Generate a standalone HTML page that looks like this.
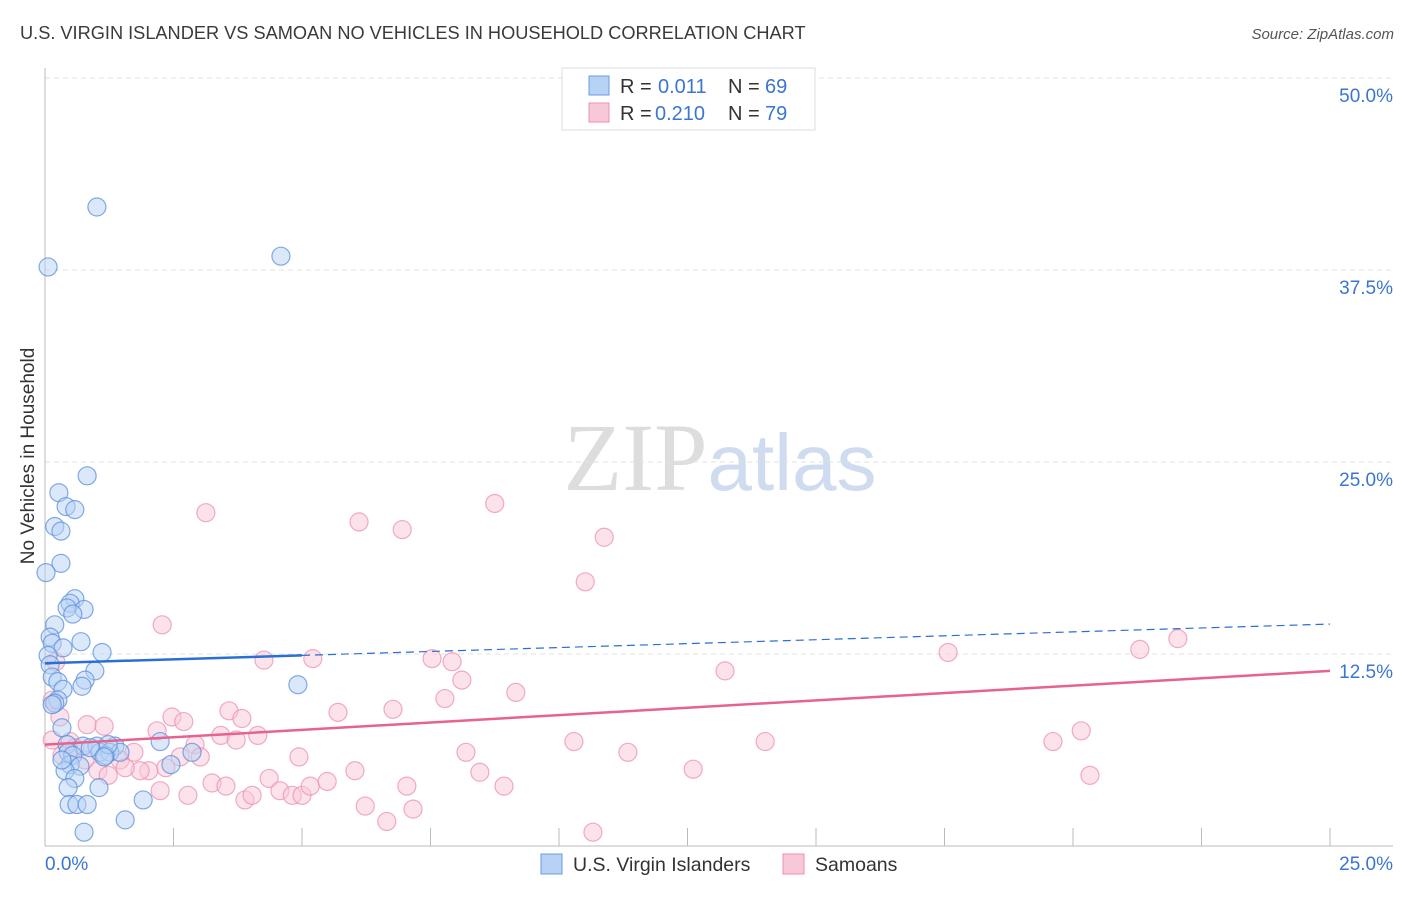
<!DOCTYPE html>
<html><head><meta charset="utf-8"><style>
body{margin:0;background:#fff;font-family:"Liberation Sans",sans-serif}
svg text{font-family:"Liberation Sans",sans-serif}
</style></head><body>
<svg id="chart" width="1406" height="892" xmlns="http://www.w3.org/2000/svg">
<text x="20" y="39" font-size="18.2" fill="#3a3a3a">U.S. VIRGIN ISLANDER VS SAMOAN NO VEHICLES IN HOUSEHOLD CORRELATION CHART</text>
<text x="1394" y="39" font-size="15" fill="#555" font-style="italic" text-anchor="end">Source: ZipAtlas.com</text>
<text x="720" y="490" font-size="96" text-anchor="middle"><tspan font-family="Liberation Serif" fill="#ddd">ZIP</tspan><tspan fill="#cfdcf0" font-size="80">atlas</tspan></text>
<text transform="translate(34,456) rotate(-90)" font-size="19" fill="#333" text-anchor="middle">No Vehicles in Household</text>
<g id="grid"></g>
<g id="axes"></g>
<g id="marks"></g>
<g>
<rect x="562" y="68" width="253" height="62" fill="#fff" stroke="#ddd"/>
<rect x="589" y="76" width="20" height="19" fill="#b8d2f5" stroke="#6a9be0"/>
<rect x="589" y="103" width="20" height="19" fill="#f9c8d8" stroke="#ec90ae"/>
<text font-size="20" fill="#333"><tspan x="620" y="93">R =</tspan><tspan x="658" y="93" fill="#3a76d0">0.011</tspan><tspan x="728" y="93">N =</tspan><tspan x="765" y="93" fill="#3a76d0">69</tspan></text>
<text font-size="20" fill="#333"><tspan x="620" y="120">R =</tspan><tspan x="655" y="120" fill="#3a76d0">0.210</tspan><tspan x="728" y="120">N =</tspan><tspan x="765" y="120" fill="#3a76d0">79</tspan></text>
</g>
<g>
<rect x="541" y="854" width="21" height="20" fill="#b8d2f5" stroke="#6a9be0"/>
<text x="573" y="871" font-size="19.5" fill="#333">U.S. Virgin Islanders</text>
<rect x="783" y="854" width="21" height="20" fill="#f9c8d8" stroke="#ec90ae"/>
<text x="815" y="871" font-size="19.5" fill="#333">Samoans</text>
</g>
</svg>
<script>
const blueX=[1.01,0.06,4.59,0.82,0.27,0.41,0.58,0.19,0.31,0.31,0.02,0.58,0.49,0.43,0.76,0.54,0.19,0.10,0.70,0.14,0.35,1.11,0.06,0.10,0.97,0.14,0.25,0.78,0.72,0.35,4.92,0.25,0.19,0.14,0.33,2.24,0.43,0.74,1.01,1.36,0.45,0.54,1.07,1.26,1.46,1.17,2.86,0.49,0.68,0.39,0.58,2.45,0.45,1.05,0.47,0.62,0.82,1.91,0.76,1.56,0.33,0.88,1.23,1.15];
const blueY=[41.6,37.7,38.4,24.1,23.0,22.1,21.9,20.8,20.5,18.4,17.8,16.1,15.8,15.5,15.4,15.1,14.4,13.6,13.3,13.2,12.9,12.6,12.4,11.8,11.4,11.0,10.7,10.8,10.4,10.2,10.5,9.5,9.3,9.2,7.7,6.8,6.6,6.5,6.5,6.5,6.1,5.9,6.1,6.1,6.1,5.9,6.1,5.3,5.2,4.9,4.4,5.3,3.8,3.8,2.7,2.7,2.7,3.0,0.9,1.7,5.6,6.4,6.6,5.8];
const pinkX=[3.13,6.11,6.95,8.75,10.88,10.51,2.28,4.26,5.21,7.53,7.92,8.11,7.78,9.16,13.23,17.57,21.30,22.04,0.21,0.29,0.82,1.15,2.47,2.70,2.18,3.58,3.83,3.42,3.72,4.14,5.70,6.77,2.92,2.63,2.35,2.02,1.73,1.46,1.85,1.56,3.02,3.25,3.52,3.89,4.03,4.36,4.57,4.81,5.00,5.16,5.49,4.94,6.03,6.23,6.65,7.04,7.16,8.19,8.46,8.93,10.29,11.34,12.61,14.01,19.61,20.16,20.33,10.66,0.14,0.49,0.58,0.33,0.78,1.03,1.23,2.24,2.78,0.14];
const pinkY=[21.7,21.1,20.6,22.3,20.1,17.2,14.4,12.1,12.2,12.2,12.0,10.8,9.6,10.0,11.4,12.6,12.8,13.5,12.0,8.4,7.9,7.8,8.4,8.1,7.5,8.8,8.3,7.2,6.9,7.2,8.7,8.9,6.6,5.8,5.1,4.9,6.1,5.6,4.9,5.1,5.8,4.1,3.9,3.0,3.3,4.4,3.6,3.3,3.3,3.9,4.2,5.8,4.9,2.6,1.6,3.9,2.4,6.1,4.8,3.9,6.8,6.1,5.0,6.8,6.8,7.5,4.6,0.9,6.9,6.8,6.4,5.9,5.6,4.9,4.6,3.6,3.3,9.5];
const yTicks=[12.5,25,37.5,50];
const yTickLabels=["12.5%","25.0%","37.5%","50.0%"];
const xTicks=[0,2.5,5,7.5,10,12.5,15,17.5,20,22.5,25];
const blueTrend=[11.9,14.45];
const pinkTrend=[6.6,11.4];
const blueSolidEnd=5;

const NS="http://www.w3.org/2000/svg";
const xs=v=>45+v*51.4;
const ys=v=>846-v*15.36;
function mk(tag,attrs,parent){const e=document.createElementNS(NS,tag);for(const k in attrs)e.setAttribute(k,attrs[k]);parent.appendChild(e);return e;}
const grid=document.getElementById('grid'),axes=document.getElementById('axes'),marks=document.getElementById('marks');
yTicks.forEach((t,i)=>{
 const l=mk('line',{x1:45,x2:1393,y1:ys(t),y2:ys(t),stroke:'#e2e2e2','stroke-dasharray':'5,4'},grid);
 
 
 const tx=mk('text',{x:1393,y:ys(t)+24,'font-size':19,fill:'#3a76d0','text-anchor':'end'},axes);
 tx.textContent=yTickLabels[i];
 
 
});
const ax=mk('line',{x1:45,x2:45,y1:68,y2:846,stroke:'#bbb'},axes);


const bx=mk('line',{x1:45,x2:1393,y1:846,y2:846,stroke:'#bbb'},axes);


xTicks.forEach(t=>{
 const l=mk('line',{x1:xs(t),x2:xs(t),y1:828,y2:846,stroke:'#bbb'},axes);
 
 
});
const xl0=mk('text',{x:45,y:870,'font-size':19,fill:'#3a76d0'},axes);xl0.textContent='0.0%';


const xl1=mk('text',{x:1393,y:870,'font-size':19,fill:'#3a76d0','text-anchor':'end'},axes);xl1.textContent='25.0%';



function pts(X,Y,fill,stroke,name){X.forEach((x,i)=>{
 const c=mk('circle',{cx:xs(x),cy:ys(Y[i]),r:9,fill:fill,'fill-opacity':0.5,stroke:stroke,'stroke-width':1.2,'stroke-opacity':0.75},marks);
 
 
});}
pts(pinkX,pinkY,'#f9c8d8','#ec90ae','samoan-point');
pts(blueX,blueY,'#b8d2f5','#5a8fdc','virgin-islander-point');
const bAt=x=>blueTrend[0]+(blueTrend[1]-blueTrend[0])*x/25;
const b1=mk('line',{x1:xs(0),y1:ys(bAt(0)),x2:xs(blueSolidEnd),y2:ys(bAt(blueSolidEnd)),stroke:'#2a6fd4','stroke-width':2.5},marks);


const b2=mk('line',{x1:xs(blueSolidEnd),y1:ys(bAt(blueSolidEnd)),x2:xs(25),y2:ys(bAt(25)),stroke:'#2a6fd4','stroke-width':1.2,'stroke-dasharray':'8,5'},marks);


const p1=mk('line',{x1:xs(0),y1:ys(pinkTrend[0]),x2:xs(25),y2:ys(pinkTrend[1]),stroke:'#e8628e','stroke-width':2.5},marks);


</script>
</body></html>
